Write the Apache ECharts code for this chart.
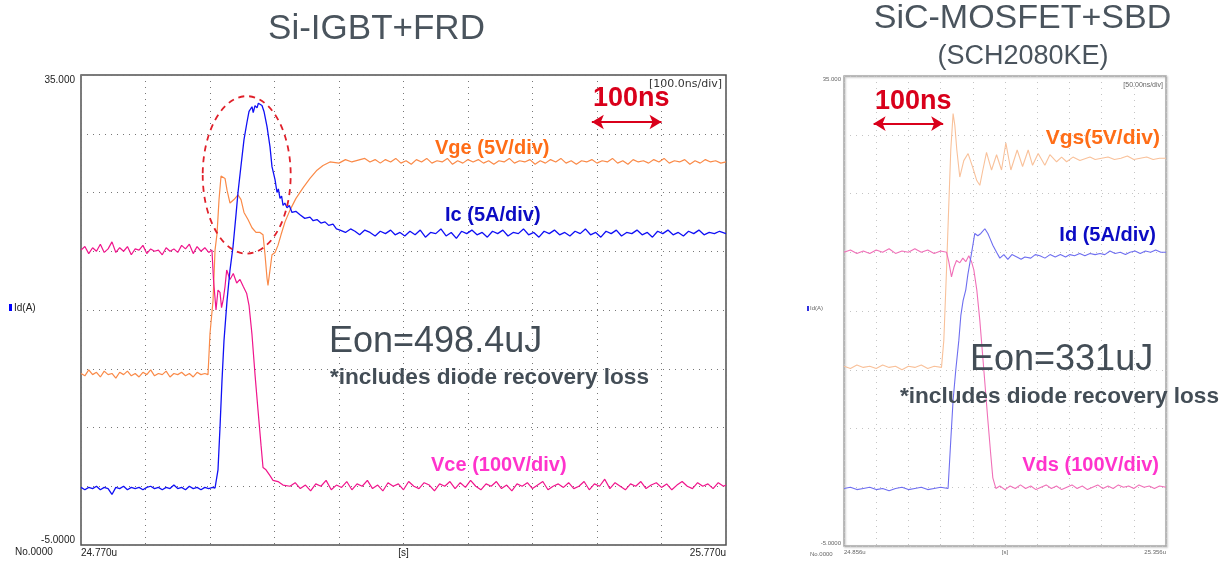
<!DOCTYPE html>
<html>
<head>
<meta charset="utf-8">
<script src="https://cdn.jsdelivr.net/npm/echarts@6/dist/echarts.min.js"></script>
<style>
html,body{margin:0;padding:0;background:#fff;}
#c{width:1232px;height:561px;}
</style>
</head>
<body>
<div id="c"></div>
<script>
// ---------- Tick labels ----------
const leftXLabels = ['24.770u', '[s]', '25.770u'];
const rightXLabels = ['24.856u', '[s]', '25.356u'];
const yLabels = ['35.000', '-5.0000'];

// ---------- Left panel: Si-IGBT + FRD (t in ns, value in Id(A) scale) ----------
const vceL = [
 [0,20.1],[6,20.4],[12,19.8],[18,20.3],[24,20.0],[30,20.6],[36,19.9],[42,20.2],[48,20.8],[54,19.9],[60,20.3],[66,20.0],[72,20.4],[78,19.7],[84,20.2],[90,20.1],[96,20.5],[102,19.8],[108,20.2],[114,20.0],[120,20.1],[126,19.7],[132,20.3],[138,20.0],[144,20.2],[150,19.9],[156,20.5],[162,20.2],[168,20.6],[174,19.8],[180,20.4],[186,20.0],[192,20.3],[198,19.9],[203,20.1],
 [205.4,17.6],[209.3,15.0],[212.4,16.7],[215.5,16.5],[217.9,15.2],[220.6,15.9],[223.3,17.0],[225.9,18.4],[231,17.6],[236.1,18.1],[241.4,17.3],[246.5,17.6],[251.6,17.0],[256.9,16.4],[260.5,15.4],[265.1,12.9],[269.8,9.5],[274.4,6.5],[279.1,3.5],[282.2,1.6],[286.8,1.4],[293,0.9],[297.7,0.5],[305.4,0.4],[313.2,0.1],[324,0.0],
 [332,0.3],[340,-0.2],[348,0.1],[356,-0.4],[364,0.2],[372,0.0],[380,0.5],[388,-0.3],[396,0.1],[404,-0.1],[412,0.4],[420,-0.3],[428,0.2],[436,0.0],[444,0.5],[452,-0.2],[460,0.1],[468,-0.4],[476,0.3],[484,0.0],[492,0.2],[500,-0.3],[508,0.4],[516,0.0],[524,-0.2],[532,0.3],[540,0.1],[548,-0.4],[556,0.2],[564,0.0],[572,0.4],[580,-0.2],[588,0.3],[596,-0.1],[604,0.5],[612,0.0],[620,-0.3],[628,0.2],[636,0.0],[644,0.4],[652,-0.2],[660,0.1],[668,-0.4],[676,0.2],[684,0.0],[692,0.3],[700,-0.2],[708,0.1],[716,0.4],[724,-0.3],[732,0.0],[740,0.2],[748,-0.1],[756,0.3],[764,-0.2],[772,0.0],[780,0.4],[788,-0.3],[796,0.2],[804,0.0],[812,0.6],[820,-0.2],[828,0.3],[836,0.0],[844,-0.3],[852,0.2],[860,0.0],[868,0.4],[876,-0.2],[884,0.1],[892,0.3],[900,-0.1],[908,0.2],[916,-0.3],[924,0.1],[932,0.4],[940,0.0],[948,-0.2],[956,0.3],[964,0.0],[972,0.2],[980,-0.2],[988,0.3],[996,0.0],[1000,0.1]
];
const icL = [
 [0,-0.1],[6,-0.3],[12,-0.1],[18,-0.2],[24,0.0],[30,-0.3],[36,-0.1],[42,-0.2],[48,-0.7],[54,-0.1],[60,-0.2],[66,0.0],[72,-0.3],[78,-0.1],[84,-0.2],[90,-0.1],[96,-0.3],[102,-0.1],[108,0.0],[114,-0.2],[120,-0.1],[126,-0.3],[132,-0.1],[138,-0.2],[144,0.1],[150,-0.2],[156,-0.1],[162,-0.3],[168,0.0],[174,-0.2],[180,-0.1],[186,-0.3],[192,-0.1],[198,-0.2],[204,-0.1],
 [207.8,-0.15],[212.4,1.4],[215.5,5.0],[218.6,9.0],[221.7,12.4],[226.4,15.8],[231,18.4],[235.7,20.4],[240.3,23.1],[243.4,25.0],[248.1,27.3],[252.7,29.5],[257.4,31.0],[260.5,31.9],[265.1,32.3],[267,31.8],[269.8,32.4],[272.9,32.2],[275,32.6],[277.5,32.5],[280.6,32.4],[283.7,31.9],[288.4,30.6],[293,28.9],[296.1,27.2],[300.8,26.1],[303.9,25.0],[306,25.3],[308.5,24.5],[311,24.7],[313.2,23.9],[316,24.1],[319.4,23.7],[323,23.9],[327.1,23.3],[333,23.4],[339.5,23.1],[347,22.8],[355,22.9],[360,22.6],[365.9,22.7],[372,22.4],[378.3,22.5],[384,22.2],[390.7,22.3],[396,21.9],[401.6,21.8],[410,21.6],[418,21.9],[424.8,21.7],[432,21.4],[440,21.8],[448.1,21.6],[456,21.3],[464,21.7],[472,21.5],[480,21.8],[487,21.4],[494.6,21.6],
 [502,21.3],[510,21.7],[518,21.4],[526,21.8],[534,21.2],[542,21.6],[550,21.5],[558,21.9],[566,21.3],[574,21.6],[582,21.1],[590,21.7],[598,21.5],[606,21.8],[614,21.4],[622,21.6],[630,21.2],[638,21.7],[646,21.5],[654,21.8],[662,21.3],[670,21.6],[678,21.5],[686,21.9],[694,21.4],[702,21.6],[710,21.2],[718,21.7],[726,21.5],[734,21.8],[742,21.4],[750,21.6],[758,21.3],[766,21.7],[774,21.5],[782,21.9],[790,21.4],[798,21.6],[806,21.2],[814,21.7],[822,21.5],[830,21.8],[838,21.3],[846,21.6],[854,21.5],[862,21.8],[870,21.4],[878,21.6],[886,21.2],[894,21.7],[902,21.5],[910,21.8],[918,21.4],[926,21.6],[934,21.3],[942,21.7],[950,21.5],[958,21.8],[966,21.4],[974,21.6],[982,21.5],[990,21.7],[1000,21.5]
];
const vgeL = [
 [0,9.6],[6,9.4],[12,9.9],[18,9.5],[24,9.7],[30,9.3],[36,9.8],[42,9.5],[48,9.6],[54,9.2],[60,9.7],[66,9.5],[72,9.8],[78,9.4],[84,9.6],[90,9.3],[96,9.7],[102,9.5],[108,9.9],[114,9.4],[120,9.6],[126,9.5],[132,9.8],[138,9.3],[144,9.6],[150,9.5],[156,9.7],[162,9.4],[168,9.6],[174,9.3],[180,9.7],[186,9.5],[192,9.6],
 [196.9,9.5],[200,13.0],[204.7,15.8],[207.8,20.1],[210.9,21.5],[214,24.4],[217.1,26.4],[220.2,26.5],[223.3,26.2],[226.4,25.2],[231,24.1],[237.2,24.4],[243.4,24.8],[248.1,24.4],[252.7,23.3],[258.9,22.7],[265.1,22.0],[271.3,21.6],[277.5,21.6],[282.2,21.4],[285.3,19.7],[288.4,17.7],[289.9,17.1],[293,18.4],[296.1,19.7],[300.8,19.9],[305.4,20.5],[310.1,21.4],[316.3,22.5],[324,23.5],[333.3,24.5],[344.2,25.4],[355,26.2],[365.9,26.9],[375.2,27.3],[386,27.6],[400,27.5],[410,27.8],[420,27.6],[432.6,27.8],
 [440,27.9],[448,27.6],[456,27.8],[464,27.5],[472,27.8],[480,27.6],[488,27.9],[496,27.5],[504,27.7],[512,27.4],[520,27.8],[528,27.6],[536,27.9],[544,27.5],[552,27.7],[560,27.6],[568,27.9],[576,27.4],[584,27.7],[592,27.5],[600,27.8],[608,27.6],[616,27.8],[624,27.5],[632,27.7],[640,27.4],[648,27.7],[656,27.6],[664,27.9],[672,27.5],[680,27.7],[688,27.6],[696,27.8],[704,27.4],[712,27.7],[720,27.5],[728,27.8],[736,27.6],[744,27.9],[752,27.5],[760,27.7],[768,27.4],[776,27.7],[784,27.6],[792,27.8],[800,27.5],[808,27.7],[816,27.6],[824,27.9],[832,27.5],[840,27.7],[848,27.4],[856,27.8],[864,27.6],[872,27.7],[880,27.5],[888,27.8],[896,27.6],[904,27.9],[912,27.5],[920,27.7],[928,27.6],[936,27.8],[944,27.4],[952,27.7],[960,27.5],[968,27.8],[976,27.6],[984,27.7],[992,27.5],[1000,27.6]
];

// ---------- Right panel: SiC-MOSFET + SBD ----------
const vdsR = [
 [0,20.0],[10,20.2],[20,19.9],[30,20.1],[40,19.9],[50,20.2],[60,20.0],[70,20.3],[80,19.9],[90,20.1],[100,20.0],[110,20.3],[120,20.0],[130,20.2],[140,19.9],[150,20.1],
 [159.2,20.0],[162.7,19.2],[166.9,17.9],[170.5,18.7],[174.7,19.3],[179.8,19.1],[184.5,19.5],[189.1,19.2],[193.8,19.7],[198,19.2],[201.6,18.5],[206.2,16.8],[210.9,14.2],[217.1,10.0],[223.4,5.7],[228,2.7],[231.1,0.8],[235.8,-0.1],
 [242,0.1],[250,-0.2],[258,0.1],[266,-0.1],[274,0.2],[282,-0.1],[290,0.1],[298,-0.2],[306,0.0],[314,0.2],[322,-0.1],[330,0.1],[338,-0.2],[346,0.0],[354,0.2],[362,-0.1],[370,0.1],[378,-0.2],[386,0.0],[394,0.2],[402,-0.1],[410,0.1],[418,-0.1],[426,0.2],[434,0.0],[442,0.1],[450,-0.1],[458,0.2],[466,0.0],[474,0.1],[482,-0.1],[490,0.1],[500,0.0]
];
const idR = [
 [0,-0.1],[10,0.0],[20,-0.2],[30,-0.1],[40,0.0],[50,-0.2],[60,-0.1],[70,-0.3],[80,-0.1],[90,0.0],[100,-0.2],[110,-0.1],[120,0.0],[130,-0.2],[140,-0.1],[150,0.0],
 [161.6,-0.1],[165.8,4.0],[169.4,7.4],[173.6,10.0],[178.3,12.5],[181.4,14.6],[185,15.9],[189.1,16.8],[192.3,18.1],[198,19.9],[203.1,21.6],[207.8,21.4],[212.5,21.6],[218.7,22.0],[223.4,21.6],[226.5,21.2],[231.1,20.6],[236.9,20.0],[242,19.5],[248.2,19.8],[254.4,19.4],[260.7,19.8],[268.4,19.6],[275,19.4],[280.9,19.6],[290,19.5],[297,19.8],[304.2,19.7],[312,19.5],[320,19.8],[328,19.6],[336,19.8],[344,19.6],[350.8,19.8],[358,19.7],[366,19.9],[374,19.7],[382,19.9],[390,19.8],[397.5,19.9],[405,19.8],[413,20.1],[421,19.9],[429,20.0],[437,19.8],[444.1,20.0],[452,20.1],[460,19.9],[468,20.1],[476,20.0],[484,20.2],[492,20.0],[500,20.0]
];
const vgsR = [
 [0,10.3],[10,10.1],[20,10.4],[30,10.2],[40,10.3],[50,10.1],[60,10.4],[70,10.2],[80,10.3],[90,10.0],[100,10.3],[110,10.2],[120,10.4],[130,10.1],[140,10.3],
 [151.4,10.2],[155,12.5],[159.2,18.5],[162.7,24.0],[165.8,28.7],[169.4,31.8],[172.1,30.8],[175.2,28.7],[179.8,26.4],[186,27.8],[192.7,28.4],[200,27.2],[206.2,26.1],[210.9,25.7],[215.6,27.0],[221.3,28.5],[224.9,27.8],[229.1,27.0],[236.9,28.3],[244.6,27.0],[251.3,29.3],[259.1,27.0],[268.9,28.7],[277.3,27.3],[286,28.7],[292.8,27.4],[301.5,28.4],[311.9,27.4],[319.7,28.3],[330.1,27.7],[337.9,28.1],[345.7,27.7],[355.5,28.1],[366.3,27.8],[381.9,28.1],
 [390,27.9],[400,28.0],[410,28.1],[420,27.9],[430,28.0],[440,28.2],[450,27.9],[460,28.0],[470,28.1],[480,27.9],[490,28.0],[500,28.0]
];

// annotations (data coordinates)
const ellipseL = [[256.9, 26.5, 68.2, 6.7]];   // centre t, centre v, radius t, radius v
const arrowL = [[792, 31.0], [900, 31.0]];
const arrowR = [[46, 30.95], [154, 30.95]];

const FONT = "'Liberation Sans', Arial, Helvetica, sans-serif";
const chart = echarts.init(document.getElementById('c'), null, {renderer: 'canvas'});

function xLab(labels, max) {
  return function (v) {
    if (v === 0) return labels[0];
    if (v === max / 2) return labels[1];
    if (v === max) return labels[2];
    return '';
  };
}
function yLab(v) {
  if (v === 35) return yLabels[0];
  if (v === -5) return yLabels[1];
  return '';
}
function txt(x, y, text, size, color, weight, align, family) {
  return {type: 'text', x: x, y: y, silent: true, z: 100,
    style: {text: text, fill: color, fontSize: size, fontWeight: weight || 'normal',
      fontFamily: family || FONT, align: align || 'left', verticalAlign: 'middle'}};
}
function line(name, data, color, xi, width) {
  return {name: name, type: 'line', data: data, xAxisIndex: xi, yAxisIndex: xi,
    showSymbol: false, symbol: 'none', animation: false, silent: true,
    lineStyle: {color: color, width: width || 1.2}};
}
function arrowMark(pts) {
  return {silent: true, animation: false, symbol: ['arrow', 'arrow'], symbolSize: [11, 12],
    label: {show: false}, lineStyle: {color: '#d9001b', width: 2, type: 'solid'},
    data: [[{coord: pts[0]}, {coord: pts[1]}]]};
}

const gridLineL = {show: true, lineStyle: {color: '#777', width: 1, type: [1, 5]}};
const gridLineR = {show: true, lineStyle: {color: '#c4c4c4', width: 1, type: [1, 5]}};

const vceSeries = line('Vce', vceL, '#f0158c', 0, 1.2);
vceSeries.markLine = arrowMark(arrowL);
const vdsSeries = line('Vds', vdsR, '#f070b8', 1, 1.1);
vdsSeries.markLine = arrowMark(arrowR);

const option = {
  backgroundColor: '#fff',
  animation: false,
  grid: [
    {left: 81, top: 75, width: 645, height: 470, show: true, borderColor: '#505050', borderWidth: 1.5, backgroundColor: 'transparent'},
    {left: 844, top: 76, width: 322, height: 470, show: true, borderColor: '#a8a8a8', borderWidth: 1.5, backgroundColor: 'transparent',
     shadowColor: 'rgba(0,0,0,0.25)', shadowBlur: 2, shadowOffsetX: 1, shadowOffsetY: 1}
  ],
  xAxis: [
    {type: 'value', gridIndex: 0, min: 0, max: 1000, interval: 100,
     axisLine: {show: false}, axisTick: {show: false}, splitLine: gridLineL,
     axisLabel: {formatter: xLab(leftXLabels, 1000), margin: 3, fontSize: 10, color: '#222', fontFamily: FONT,
       alignMinLabel: 'left', alignMaxLabel: 'right', showMinLabel: true, showMaxLabel: true}},
    {type: 'value', gridIndex: 1, min: 0, max: 500, interval: 50,
     axisLine: {show: false}, axisTick: {show: false}, splitLine: gridLineR,
     axisLabel: {formatter: xLab(rightXLabels, 500), margin: 3, fontSize: 6, color: '#666', fontFamily: FONT,
       alignMinLabel: 'left', alignMaxLabel: 'right', showMinLabel: true, showMaxLabel: true}}
  ],
  yAxis: [
    {type: 'value', gridIndex: 0, min: -5, max: 35, interval: 5,
     axisLine: {show: false}, axisTick: {show: false}, splitLine: gridLineL,
     axisLabel: {formatter: yLab, margin: 6, fontSize: 10, color: '#222', fontFamily: FONT,
       verticalAlignMaxLabel: 'top', verticalAlignMinLabel: 'bottom', showMinLabel: true, showMaxLabel: true}},
    {type: 'value', gridIndex: 1, min: -5, max: 35, interval: 5,
     axisLine: {show: false}, axisTick: {show: false}, splitLine: gridLineR,
     axisLabel: {formatter: yLab, margin: 3, fontSize: 6, color: '#666', fontFamily: FONT,
       verticalAlignMaxLabel: 'top', verticalAlignMinLabel: 'bottom', showMinLabel: true, showMaxLabel: true}}
  ],
  series: [
    line('Vge', vgeL, '#fa8a48', 0, 1.2),
    vceSeries,
    line('Ic', icL, '#1010f5', 0, 1.3),
    line('Vgs', vgsR, '#f9c19a', 1, 1.1),
    vdsSeries,
    line('Id', idR, '#6e6ef0', 1, 1.1),
    {type: 'custom', xAxisIndex: 0, yAxisIndex: 0, data: ellipseL, silent: true, animation: false, z: 5,
     renderItem: function (params, api) {
       const c = api.coord([api.value(0), api.value(1)]);
       const s = api.size([api.value(2), api.value(3)]);
       const rx = s[0], ry = s[1];
       const d = 'M ' + (c[0] - rx) + ' ' + c[1] +
         ' A ' + rx + ' ' + ry + ' 0 1 0 ' + (c[0] + rx) + ' ' + c[1] +
         ' A ' + rx + ' ' + ry + ' 0 1 0 ' + (c[0] - rx) + ' ' + c[1] + ' Z';
       return {type: 'path', shape: {pathData: d},
         style: {fill: 'none', stroke: '#e0202a', lineWidth: 1.8, lineDash: [6, 5]}};
     }}
  ],
  graphic: [
    txt(376.5, 29, 'Si-IGBT+FRD', 35, '#4a545d', 'normal', 'center'),
    txt(1022.5, 19, 'SiC-MOSFET+SBD', 34, '#4a545d', 'normal', 'center'),
    txt(1023, 57, '(SCH2080KE)', 27, '#4a545d', 'normal', 'center'),
    // left panel
    txt(722, 84, '[100.0ns/div]', 11, '#333', 'normal', 'right', "'DejaVu Sans', sans-serif"),
    txt(593, 99, '100ns', 27, '#d9001b', 'bold'),
    txt(435, 148, 'Vge (5V/div)', 20, '#ff6d17', 'bold'),
    txt(445, 215, 'Ic (5A/div)', 20, '#0b0bc4', 'bold'),
    txt(431, 465, 'Vce (100V/div)', 20, '#ff33cc', 'bold'),
    txt(329, 342, 'Eon=498.4uJ', 36, '#434d56'),
    txt(330, 378, '*includes diode recovery loss', 22.6, '#434d56', 'bold'),
    {type: 'rect', shape: {x: 9, y: 304, width: 3, height: 7}, style: {fill: '#0000ff'}, silent: true},
    txt(14, 308, 'Id(A)', 10, '#222'),
    txt(15, 552, 'No.0000', 10, '#222'),
    // right panel
    txt(1163, 85, '[50.00ns/div]', 7, '#666', 'normal', 'right'),
    txt(875, 102, '100ns', 27, '#d9001b', 'bold'),
    txt(1160, 138, 'Vgs(5V/div)', 21, '#ff6d17', 'bold', 'right'),
    txt(1156, 235, 'Id (5A/div)', 20, '#0b0bc4', 'bold', 'right'),
    txt(1159, 465, 'Vds (100V/div)', 20, '#ff33cc', 'bold', 'right'),
    txt(970, 360, 'Eon=331uJ', 36, '#434d56'),
    txt(900, 397, '*includes diode recovery loss', 22.6, '#434d56', 'bold'),
    {type: 'rect', shape: {x: 807, y: 306, width: 2, height: 5}, style: {fill: '#3030e0'}, silent: true},
    txt(810, 308.5, 'Id(A)', 6, '#666'),
    txt(810, 554, 'No.0000', 6, '#666')
  ]
};
chart.setOption(option);
</script>
</body>
</html>
